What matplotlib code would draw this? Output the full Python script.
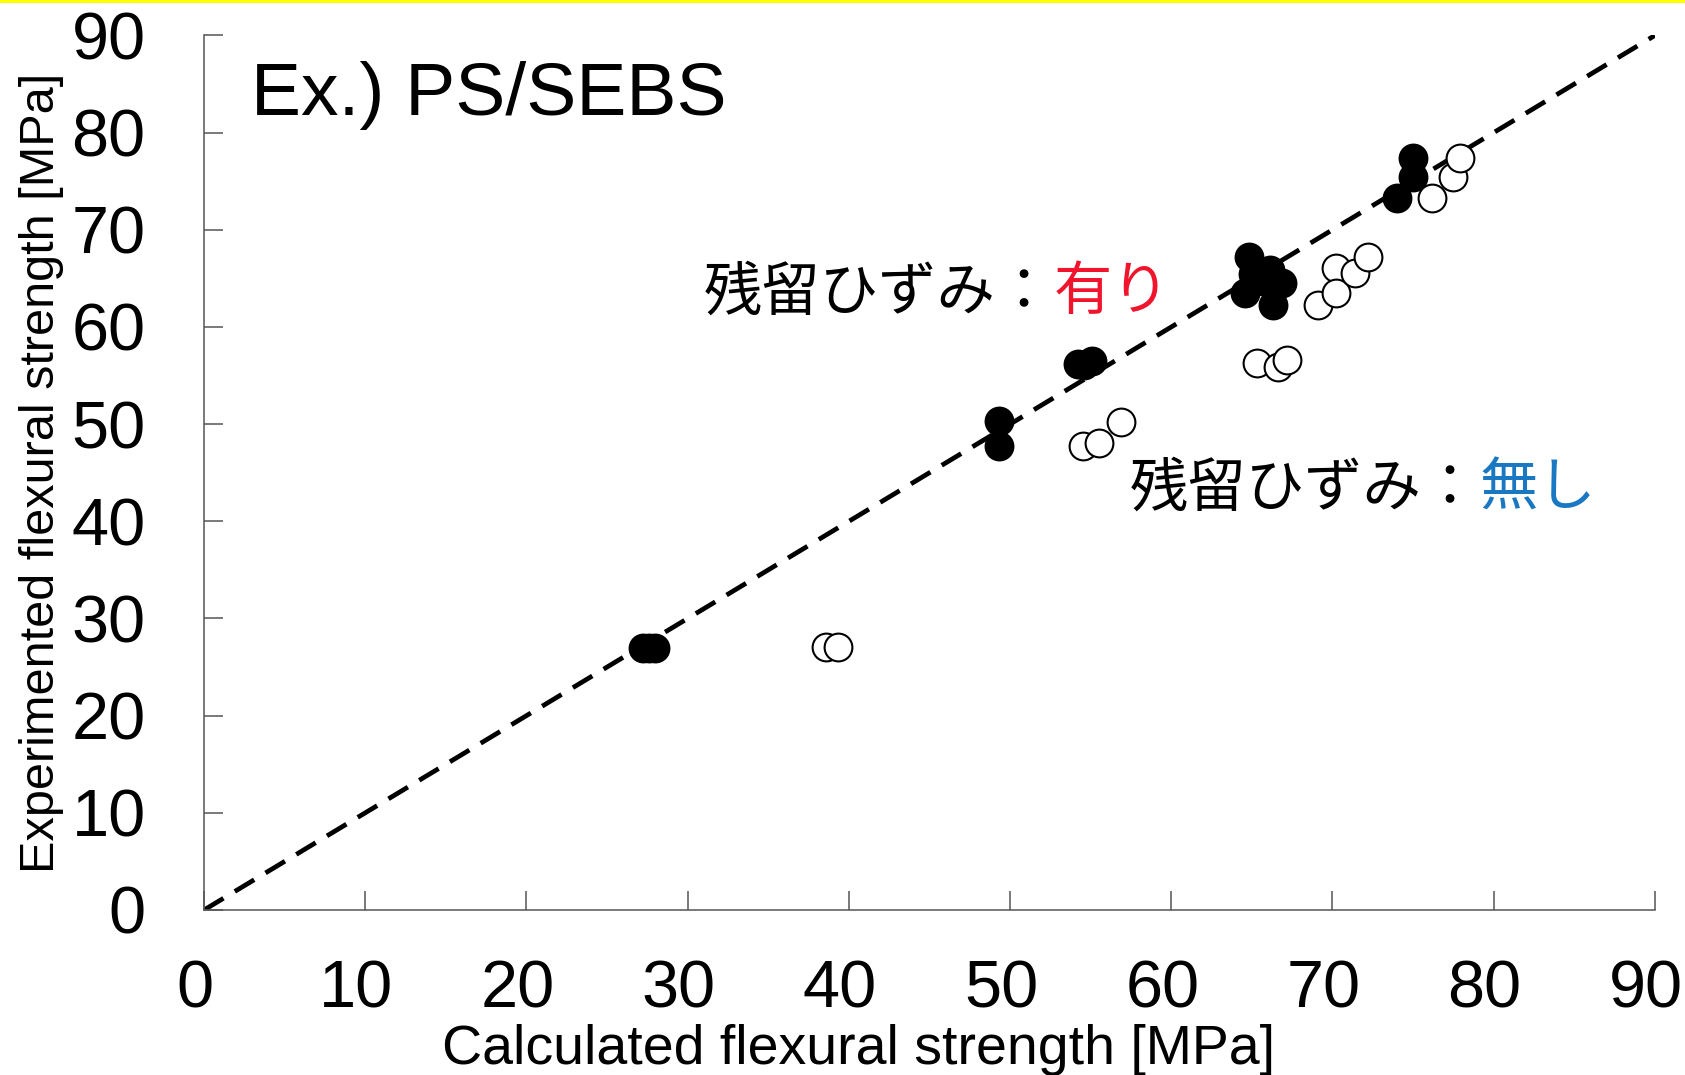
import matplotlib
matplotlib.use("Agg")
import matplotlib.pyplot as plt
import matplotlib.transforms as mtransforms
from matplotlib.patches import Rectangle

###
# Data (flexural strength, MPa)
###

# with residual strain
calc_with = [27.2, 27.6, 28.0, 49.3, 49.3, 54.2, 54.6, 55.1,
             64.6, 64.8, 65.1, 65.7, 66.1, 66.3, 66.9, 74.0, 75.0, 75.0]
exp_with = [27.0, 27.0, 27.0, 50.3, 47.8, 56.2, 56.1, 56.5,
            63.5, 67.2, 65.5, 64.7, 65.9, 62.3, 64.5, 73.3, 77.4, 75.4]

# without residual strain
calc_without = [38.6, 39.3, 54.5, 55.5, 56.9, 65.3, 66.6, 67.2,
                69.1, 70.2, 70.2, 71.4, 72.2, 76.2, 77.5, 77.9]
exp_without = [27.1, 27.1, 47.8, 48.1, 50.2, 56.3, 55.9, 56.6,
               62.3, 66.1, 63.5, 65.6, 67.2, 73.3, 75.4, 77.4]

ticks = [0, 10, 20, 30, 40, 50, 60, 70, 80, 90]

###
# Plotting
###

plt.rcParams["font.family"] = ["Liberation Sans", "DejaVu Sans"]
jp_font = ["Noto Sans CJK JP", "DejaVu Sans"]
spine_color = "#555555"

fig = plt.figure(figsize=(16.85, 10.75), dpi=100)
ax = fig.add_axes([0.1211, 0.1535, 0.8610, 0.8135])

ax.plot([0, 90], [0, 90], color="black", lw=3.4, dashes=(4.8, 2.8), zorder=1)
ax.scatter(calc_with, exp_with, s=400, facecolor="black", edgecolor="black",
           linewidth=1.5, zorder=3)
ax.scatter(calc_without, exp_without, s=400, facecolor="white", edgecolor="black",
           linewidth=1.5, zorder=2)

ax.set_xlim(0, 90)
ax.set_ylim(0, 90)
ax.set_xticks(ticks)
ax.set_yticks(ticks)
ax.tick_params(axis="both", direction="in", length=14, width=1.1,
               color=spine_color, labelsize=48)
ax.tick_params(axis="x", pad=36)
ax.tick_params(axis="y", pad=42)

# nudge x tick labels a little to the left
shift = mtransforms.ScaledTranslation(-9 / 100, 0, fig.dpi_scale_trans)
for lbl in ax.get_xticklabels():
    lbl.set_transform(lbl.get_transform() + shift)

for side in ["top", "right"]:
    ax.spines[side].set_visible(False)
for side in ["left", "bottom"]:
    ax.spines[side].set_color(spine_color)
    ax.spines[side].set_linewidth(1.1)

ax.set_xlabel("Calculated flexural strength [MPa]", fontsize=40)
ax.xaxis.set_label_coords(0.451, -0.160)
ax.xaxis.label.set_va("center")
ax.set_ylabel("Experimented flexural strength [MPa]", fontsize=35)
ax.yaxis.set_label_coords(-0.112, 0.5)
ax.yaxis.label.set_va("center")

ax.text(2.9, 81.8, "Ex.) PS/SEBS", fontsize=54, va="baseline", ha="left")

t1 = ax.text(31.0, 63.5, "残留ひずみ：", fontsize=42, family=jp_font,
             va="center", ha="left")
ax.annotate("有り", xy=(1, 0), xycoords=t1, va="bottom", ha="left",
            fontsize=42, family=jp_font, color="#f0142d")

t2 = ax.text(57.4, 43.3, "残留ひずみ：", fontsize=42, family=jp_font,
             va="center", ha="left")
ax.annotate("無し", xy=(1, 0), xycoords=t2, va="bottom", ha="left",
            fontsize=42, family=jp_font, color="#1a78c2")

# thin yellow strip along the top edge
fig.patches.append(Rectangle((0, 1 - 3 / 1075), 1, 3 / 1075, transform=fig.transFigure,
                             facecolor="#ffff00", edgecolor="none"))

fig.savefig("out.png", dpi=100)
